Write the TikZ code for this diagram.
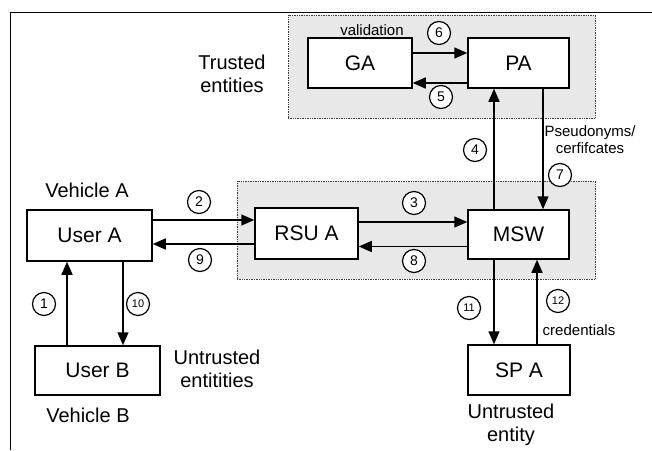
\documentclass[tikz,border=0pt]{standalone}
\usepackage{fontspec}
\setmainfont{Liberation Sans}
\usetikzlibrary{arrows.meta}
\begin{document}
\begin{tikzpicture}[x=1pt,y=-1pt,
  region/.style={draw=black!75, densely dotted, line width=0.7pt, fill=black!9, inner sep=0pt},
  ent/.style={draw, line width=1.5pt, fill=white, inner sep=0pt, font=\fontsize{21}{21}\selectfont},
  arr/.style={line width=1.5pt, -{Triangle[length=13pt,width=11pt]}},
  num/.style={draw, circle, line width=1.2pt, fill=white, minimum size=23pt, inner sep=0pt, font=\fontsize{14}{14}\selectfont},
  num2/.style={num, font=\fontsize{11}{11}\selectfont},
  lbl/.style={font=\fontsize{20}{23}\selectfont, align=center, inner sep=0pt},
  small/.style={font=\fontsize{15}{17}\selectfont, align=center, inner sep=0pt}]
\useasboundingbox (0,0) rectangle (652,450);
% frame
\coordinate (f1) at (10,450);
\coordinate (f2) at (10,12);
\coordinate (f3) at (652,12);
\draw[line width=1pt] (f1) -- (f2) -- (f3);
% regions
\node[region, minimum width=307pt, minimum height=103pt] (trust) at (441.5,66.5) {};
\node[region, minimum width=358pt, minimum height=98pt] (mid) at (416,230) {};
% entities
\node[ent, minimum width=104pt, minimum height=50pt] (GA) at (360,63) {GA};
\node[ent, minimum width=101pt, minimum height=50pt] (PA) at (518.5,63) {PA};
\node[ent, minimum width=101pt, minimum height=49pt] (MSW) at (518.5,234.5) {MSW};
\node[ent, minimum width=103pt, minimum height=51pt] (RSU) at (306.5,233.5) {RSU A};
\node[ent, minimum width=125pt, minimum height=51pt] (UA) at (89.5,235.5) {User A};
\node[ent, minimum width=125pt, minimum height=49pt] (UB) at (97.5,370.5) {User B};
\node[ent, minimum width=102pt, minimum height=50pt] (SPA) at (519,370) {SP A};
% arrows
\draw[arr] ([yshift=10pt]GA.east) -- ([yshift=10pt]GA.east -| PA.west);
\draw[arr] ([yshift=-20pt]PA.west) -- ([yshift=-20pt]PA.west -| GA.east);
\draw[arr] ([yshift=15.5pt]UA.east) -- ([yshift=15.5pt]UA.east -| RSU.west);
\draw[arr] ([yshift=-10.5pt]RSU.west) -- ([yshift=-10.5pt]RSU.west -| UA.east);
\draw[arr] ([yshift=11.5pt]RSU.east) -- ([yshift=11.5pt]RSU.east -| MSW.west);
\draw[arr] ([yshift=-12pt]MSW.west) -- ([yshift=-12pt]MSW.west -| RSU.east);
\draw[arr] ([xshift=-24.5pt]MSW.north) -- ([xshift=-24.5pt]MSW.north |- PA.south);
\draw[arr] ([xshift=24.5pt]PA.south) -- ([xshift=24.5pt]PA.south |- MSW.north);
\draw[arr] ([xshift=-24.5pt]MSW.south) -- ([xshift=-24.5pt]MSW.south |- SPA.north);
\draw[arr] ([xshift=18pt]SPA.north) -- ([xshift=18pt]SPA.north |- MSW.south);
\draw[arr] ([xshift=-30.5pt]UB.north) -- ([xshift=-30.5pt]UB.north |- UA.south);
\draw[arr] ([xshift=33.5pt]UA.south) -- ([xshift=33.5pt]UA.south |- UB.north);
% numbers
\node[num] (c1) at (44,304) {1};
\node[num] (c2) at (199,202) {2};
\node[num] (c3) at (414,203) {3};
\node[num] (c4) at (475,150) {4};
\node[num] (c5) at (441,97) {5};
\node[num] (c6) at (439,33) {6};
\node[num] (c7) at (560,175) {7};
\node[num] (c8) at (414,261) {8};
\node[num] (c9) at (200,260) {9};
\node[num2] (c10) at (138,304) {10};
\node[num2] (c11) at (469,308) {11};
\node[num2] (c12) at (558,301) {12};
% labels
\node[lbl] (tTrusted) at (232,73.5) {Trusted\\entities};
\node[lbl] (tVA) at (87,190) {Vehicle A};
\node[lbl] (tVB) at (88,415) {Vehicle B};
\node[lbl] (tUe) at (217,369) {Untrusted\\entitities};
\node[lbl] (tUe2) at (511,425) {Untrusted\\entity};
\node[small] (tVal) at (372,30) {validation};
\node[small] (tPs) at (590,140) {Pseudonyms/\\cerfifcates};
\node[small] (tCr) at (579,330) {credentials};
\end{tikzpicture}
\end{document}
